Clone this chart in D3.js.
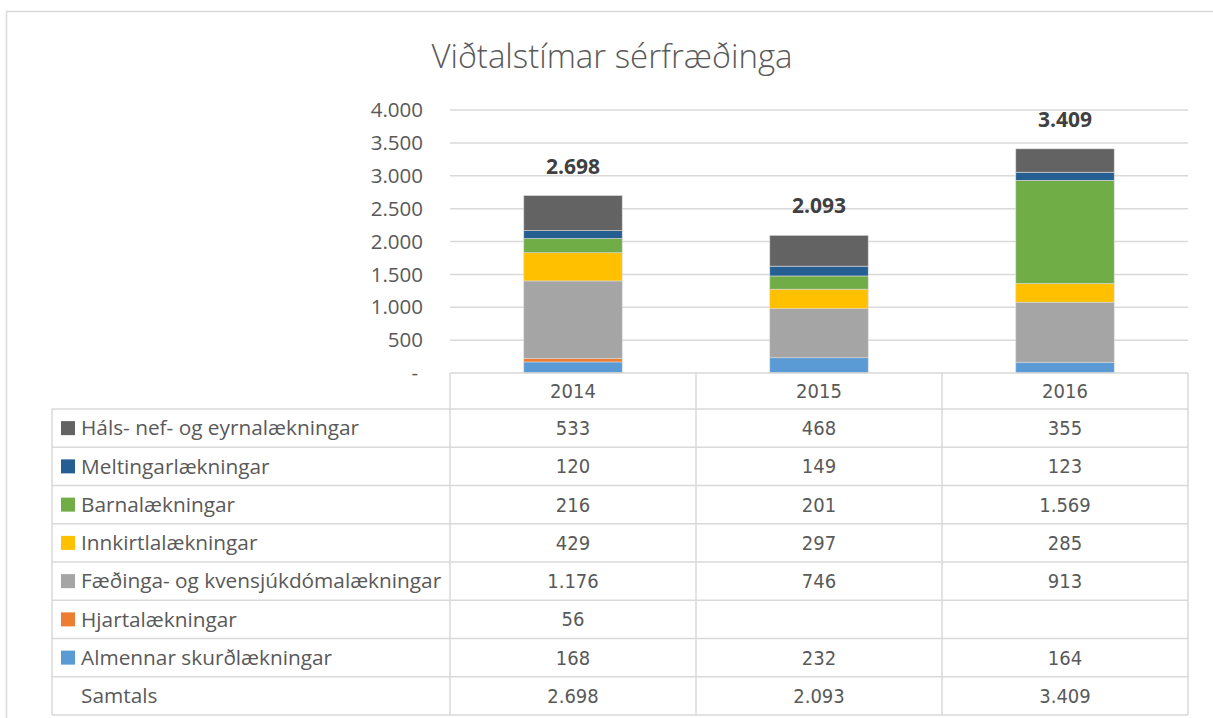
<!DOCTYPE html>
<html>
<head>
<meta charset="utf-8">
<script src="https://cdn.jsdelivr.net/npm/d3@7"></script>
<style>
  body { margin: 0; background: #fff; }
  svg text { font-family: "DejaVu Sans Condensed", "DejaVu Sans", sans-serif; font-stretch: condensed; fill: #595959; }
  svg text.lbl { font-family: "Open Sans", "Noto Sans", sans-serif; font-stretch: normal; }
</style>
</head>
<body>
<svg id="chart" width="1213" height="718"></svg>
<script>
// data
var years = ["2014", "2015", "2016"]
var seriesNames = ["Háls- nef- og eyrnalækningar", "Meltingarlækningar", "Barnalækningar",
    "Innkirtlalækningar", "Fæðinga- og kvensjúkdómalækningar", "Hjartalækningar", "Almennar skurðlækningar"]
var hals = [533, 468, 355]
var melting = [120, 149, 123]
var barna = [216, 201, 1569]
var innkirtla = [429, 297, 285]
var faedinga = [1176, 746, 913]
var hjarta = [56, null, null]
var almennar = [168, 232, 164]
var totals = [2698, 2093, 3409]
var seriesColors = ["#636363", "#255e91", "#70ad47", "#ffc000", "#a5a5a5", "#ed7d31", "#5b9bd5"]
var yTicks = [0, 500, 1000, 1500, 2000, 2500, 3000, 3500, 4000]

var seriesValues = [hals, melting, barna, innkirtla, faedinga, hjarta, almennar]

var locale = d3.formatLocale({decimal: ",", thousands: ".", grouping: [3], currency: ["", ""]})
var fmt = locale.format(",d")

var drawFrame = function(svg) {
    svg.append("rect")
        .attr("x", 6.5).attr("y", 11.5)
        .attr("width", 1240).attr("height", 740)
        .attr("fill", "none")
        .attr("stroke", "#d9d9d9")
        .attr("stroke-width", 1.5)
}

var drawTitle = function(svg) {
    svg.append("text")
        .attr("class", "lbl")
        .attr("x", 612).attr("y", 68)
        .attr("text-anchor", "middle")
        .style("font-size", "33px")
        .style("font-weight", 300)
        .text("Viðtalstímar sérfræðinga")
}

var drawAxes = function(svg, xScale, yScale) {
    var grid = svg.append("g").attr("class", "grid")
    grid.selectAll("line")
        .data(yTicks.slice(1))
        .enter()
        .append("line")
            .attr("x1", xScale.range()[0])
            .attr("x2", xScale.range()[1])
            .attr("y1", d => yScale(d))
            .attr("y2", d => yScale(d))
            .attr("stroke", "#d9d9d9")
            .attr("stroke-width", 1.5)

    svg.append("g").selectAll("text")
        .data(yTicks)
        .enter()
        .append("text")
            .attr("class", "lbl")
            .attr("x", d => d == 0 ? 418 : 423)
            .attr("y", d => yScale(d))
            .attr("dy", "0.35em")
            .attr("text-anchor", "end")
            .style("font-size", "20.5px")
            .text(d => d == 0 ? "-" : fmt(d))
}

var drawBars = function(svg, stacked, xScale, yScale) {
    var bw = xScale.bandwidth() * 0.4
    svg.append("g").selectAll("g")
        .data(stacked)
        .enter()
        .append("g")
            .attr("fill", d => seriesColors[d.key])
        .selectAll("rect")
        .data(d => d)
        .enter()
        .append("rect")
            .attr("x", d => xScale(d.data.year) + (xScale.bandwidth() - bw) / 2)
            .attr("y", d => yScale(d[1]))
            .attr("width", bw)
            .attr("height", d => yScale(d[0]) - yScale(d[1]))
            .attr("stroke", "#d9d9d9")
            .attr("stroke-width", 0.6)

    svg.append("g").selectAll("text")
        .data(years)
        .enter()
        .append("text")
            .attr("class", "lbl")
            .attr("x", d => xScale(d) + xScale.bandwidth() / 2)
            .attr("y", (d, i) => yScale(totals[i]) - 22)
            .attr("text-anchor", "middle")
            .style("font-size", "21px")
            .style("font-weight", "bold")
            .style("fill", "#404040")
            .text((d, i) => fmt(totals[i]))
}

var drawTable = function(svg, xScale, top) {
    var left = 52
    var headH = 36
    var rowH = 38.25
    var right = xScale.range()[1]
    var x0 = xScale.range()[0]
    var nRows = seriesNames.length + 1
    var bottom = top + headH + nRows * rowH
    var g = svg.append("g").attr("class", "table")

    // lines
    var hLines = [{x1: x0, y: top}]
    for (var i = 0; i <= nRows; i++) hLines.push({x1: left, y: top + headH + i * rowH})
    g.selectAll("line.h")
        .data(hLines)
        .enter()
        .append("line")
            .attr("x1", d => d.x1).attr("x2", right)
            .attr("y1", d => d.y).attr("y2", d => d.y)
            .attr("stroke", "#d9d9d9").attr("stroke-width", 1.5)

    var vLines = [{x: left, y1: top + headH}].concat(
        years.map(y => ({x: xScale(y), y1: top})),
        [{x: right, y1: top}])
    g.selectAll("line.v")
        .data(vLines)
        .enter()
        .append("line")
            .attr("x1", d => d.x).attr("x2", d => d.x)
            .attr("y1", d => d.y1).attr("y2", bottom)
            .attr("stroke", "#d9d9d9").attr("stroke-width", 1.5)

    // header
    g.selectAll("text.year")
        .data(years)
        .enter()
        .append("text")
            .attr("x", d => xScale(d) + xScale.bandwidth() / 2)
            .attr("y", top + headH / 2)
            .attr("dy", "0.35em")
            .attr("text-anchor", "middle")
            .style("font-size", "20px")
            .text(d => d)

    var rows = seriesNames.map((s, i) => ({name: s, color: seriesColors[i], vals: seriesValues[i]}))
    rows.push({name: "Samtals", color: null, vals: totals})

    var row = g.selectAll("g.row")
        .data(rows)
        .enter()
        .append("g")
            .attr("transform", (d, i) => "translate(0," + (top + headH + i * rowH + rowH / 2) + ")")

    row.filter(d => d.color)
        .append("rect")
            .attr("x", 61).attr("y", -7)
            .attr("width", 14).attr("height", 14)
            .attr("fill", d => d.color)

    row.append("text")
        .attr("class", "lbl")
        .attr("x", 81)
        .attr("dy", "0.35em")
        .style("font-size", "20.8px")
        .text(d => d.name)

    row.selectAll("text.val")
        .data(d => d.vals.map((v, j) => ({v: v, year: years[j]})))
        .enter()
        .append("text")
            .attr("x", d => xScale(d.year) + xScale.bandwidth() / 2)
            .attr("dy", "0.35em")
            .attr("text-anchor", "middle")
            .style("font-size", "20px")
            .text(d => d.v == null ? "" : fmt(d.v))
}

var initGraph = function() {
    var svg = d3.select("#chart")
    var plot = {left: 450, right: 1188, top: 110, bottom: 373}

    var table = years.map(function(y, j) {
        var row = {year: y}
        seriesValues.forEach((vals, i) => row[i] = vals[j] || 0)
        return row
    })
    // stack from bottom: last series first
    var keys = d3.range(seriesNames.length).reverse()
    var stacked = d3.stack().keys(keys)(table)

    var xScale = d3.scaleBand()
        .domain(years)
        .range([plot.left, plot.right])

    var yScale = d3.scaleLinear()
        .domain([0, 4000])
        .range([plot.bottom, plot.top])

    drawFrame(svg)
    drawTitle(svg)
    drawAxes(svg, xScale, yScale)
    drawBars(svg, stacked, xScale, yScale)
    drawTable(svg, xScale, plot.bottom)
}

initGraph()
</script>
</body>
</html>
